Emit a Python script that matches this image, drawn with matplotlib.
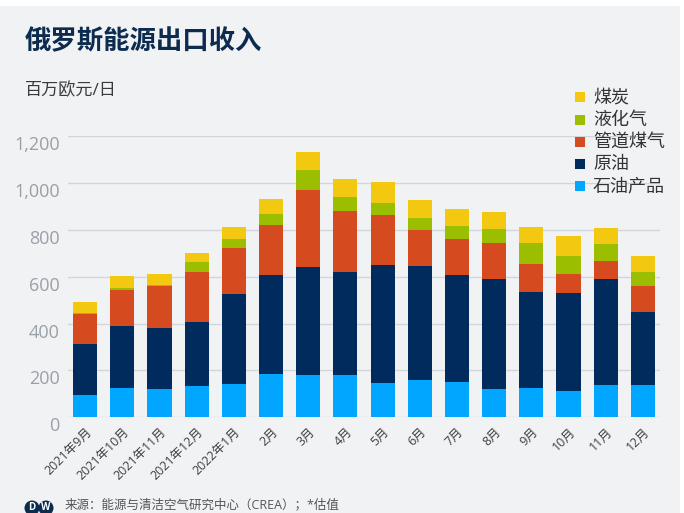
import matplotlib
matplotlib.use("Agg")
import matplotlib.pyplot as plt
import numpy as np
from matplotlib.patches import Rectangle, Circle
from matplotlib.transforms import IdentityTransform

plt.rcParams['font.family'] = ['Open Sans', 'Noto Sans CJK SC', 'DejaVu Sans']

months = ['2021年9月', '2021年10月', '2021年11月', '2021年12月', '2022年1月',
          '2月', '3月', '4月', '5月', '6月', '7月', '8月', '9月', '10月', '11月', '12月']
oil_products = [93, 126, 120, 134, 144, 186, 181, 181, 147, 157, 151, 120, 123, 114, 137, 136]
crude_oil = [220, 263, 259, 272, 380, 421, 462, 438, 504, 487, 458, 471, 410, 417, 452, 314]
pipeline_gas = [126, 154, 180, 214, 200, 214, 327, 261, 213, 155, 152, 152, 121, 82, 78, 110]
lng = [7, 7, 7, 41, 36, 46, 86, 60, 52, 51, 55, 60, 89, 74, 72, 59]
coal = [44, 51, 44, 38, 51, 64, 74, 77, 87, 79, 73, 71, 68, 86, 70, 68]

series_names = ['石油产品', '原油', '管道煤气', '液化气', '煤炭']
series_colors = ['#00a6ff', '#002b5c', '#d64a20', '#9bbe00', '#f2c811']
y_ticks = [0, 200, 400, 600, 800, 1000, 1200]
y_tick_labels = ['0', '200', '400', '600', '800', '1,000', '1,200']

W, H = 684, 513
BG = '#f1f2f4'
fig = plt.figure(figsize=(W / 100, H / 100), dpi=100, facecolor=BG)

# white frame strips like the reference
fig.patches.append(Rectangle((0, H - 6), W, 6, transform=IdentityTransform(),
                             facecolor='white', edgecolor='none', zorder=0))
fig.patches.append(Rectangle((W - 4, 0), 4, H, transform=IdentityTransform(),
                             facecolor='white', edgecolor='none', zorder=0))

ax = fig.add_axes([68 / W, (H - 417.3) / H, 592 / W, 281.3 / H])
ax.set_facecolor(BG)

x = np.arange(len(months))
bottom = np.zeros(len(months))
for vals, col in zip([oil_products, crude_oil, pipeline_gas, lng, coal], series_colors):
    vals = np.array(vals, dtype=float)
    ax.bar(x, vals, 0.65, bottom=bottom, color=col, zorder=3, linewidth=0)
    bottom += vals

ax.set_xlim(-0.46, len(months) - 1 + 0.46)
ax.set_ylim(0, 1200)
ax.set_yticks(y_ticks)
ax.set_yticklabels(y_tick_labels)
ax.grid(axis='y', color='#d2d5db', linewidth=1, zorder=0)
ax.set_axisbelow(True)
for s in ax.spines.values():
    s.set_visible(False)
ax.tick_params(axis='y', length=0, pad=6, labelsize=13, labelcolor='#9aa0a8')
for lbl in ax.get_yticklabels():
    lbl.set_va('top')

ax.set_xticks(x)
ax.set_xticklabels(months, rotation=45, ha='right', rotation_mode='anchor',
                   fontsize=9, color='#404040')
ax.tick_params(axis='x', length=0, pad=6)

# title & subtitle
fig.text(25 / W, 1 - 42 / H, '俄罗斯能源出口收入', fontsize=19, fontweight='bold',
         color='#0c2b4e', va='center', ha='left')
fig.text(25 / W, 1 - 91 / H, '百万欧元/日', fontsize=12.3, color='#3a3a3a',
         va='center', ha='left')

# legend (manual)
leg_y = [97, 120, 142, 164, 186]
for yy, name, col in zip(leg_y, series_names[::-1], series_colors[::-1]):
    fig.patches.append(Rectangle((575, H - yy - 5), 10, 10, transform=IdentityTransform(),
                                 facecolor=col, edgecolor='none'))
    fig.text(593 / W, 1 - yy / H, name, fontsize=13, color='#333333',
             va='center', ha='left')

# DW logo and source
for cx, letter in [(32, 'D'), (46, 'W')]:
    fig.patches.append(Circle((cx, H - 508), 7.5, transform=IdentityTransform(),
                              facecolor='#0c2b4e', edgecolor='none'))
    fig.text(cx / W, 1 - 508 / H, letter, fontsize=7, fontweight='bold', color='white',
             ha='center', va='center')
fig.text(65 / W, 1 - 505 / H, '来源：能源与清洁空气研究中心（CREA）；*估值', fontsize=9,
         color='#555555', va='center', ha='left')

fig.savefig('out.png', dpi=100, facecolor=fig.get_facecolor())
